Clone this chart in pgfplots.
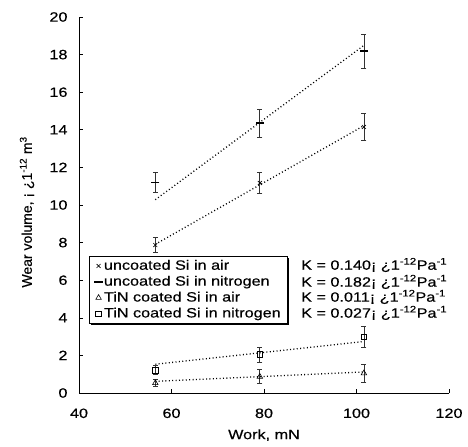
\documentclass[border=0pt]{standalone}
\usepackage{fontspec}
\setmainfont{Liberation Sans}[FakeStretch=1.2, FakeBold=0.4]
\newfontfamily\ylabfont{Liberation Sans}[FakeBold=0.4]
\usepackage{pgfplots}
\pgfplotsset{compat=1.18}
\usetikzlibrary{shadows}

\newcommand{\chartfont}{\fontsize{13.5bp}{15bp}\selectfont}

\begin{document}
\begin{tikzpicture}
\path[use as bounding box] (-79bp,-54bp) rectangle (389bp,393bp);
\begin{axis}[
  at={(0,0)}, anchor=south west,
  scale only axis, width=370bp, height=376bp,
  xmin=40, xmax=120, ymin=0, ymax=20,
  xtick={40,60,...,120}, ytick={0,2,...,20},
  axis x line=bottom, axis y line=left,
  axis line style={-, line width=0.8pt},
  tick align=inside, major tick length=4bp,
  tick style={black, line width=0.6pt},
  /pgf/number format/assume math mode=true,
  tick label style={font=\chartfont},
  yticklabel style={xshift=-8bp},
  xticklabel style={yshift=-12bp},
  xlabel={Work, mN},
  every axis x label/.style={at={(axis description cs:0.5,-0.112)}, anchor=center, font=\chartfont},
  legend cell align=left,
  legend image code/.code={\draw[#1] plot coordinates {(0.12cm,0cm)};},
  legend style={at={(rel axis cs:0.027,0.364)}, anchor=north west,
    draw=black, line width=0.8pt, fill=white,
    drop shadow={shadow xshift=1.8pt, shadow yshift=-1.8pt, fill=black, opacity=1},
    font=\chartfont, row sep=0pt, inner ysep=1.5bp, inner xsep=5bp,
    nodes={text height=10.5bp, text depth=3bp, inner sep=1.2bp}},
  error bars/error bar style={black!80, line width=0.7pt},
  error bars/error mark options={rotate=90, mark size=2.5pt, black!80, line width=0.7pt},
]
% fitted lines, V = K W
\addplot[black, line width=1.3pt, dash pattern=on 1pt off 2.4pt, forget plot] coordinates {(56.5,7.91) (101.6,14.22)};
\addplot[black, line width=1.3pt, dash pattern=on 1pt off 2.4pt, forget plot] coordinates {(56.5,10.28) (101.6,18.49)};
\addplot[black, line width=1.3pt, dash pattern=on 1pt off 2.4pt, forget plot] coordinates {(56.5,0.62) (101.6,1.12)};
\addplot[black, line width=1.3pt, dash pattern=on 1pt off 2.4pt, forget plot] coordinates {(56.5,1.53) (101.6,2.74)};

\addplot[only marks, mark=x, mark size=2.8pt, black, line width=0.6pt,
  error bars/.cd, y dir=both, y explicit] coordinates {
  (56.5,7.87) +- (0,0.40)
  (79.1,11.17) +- (0,0.57)
  (101.6,14.15) +- (0,0.72)};
\addlegendentry{uncoated Si in air}
\addplot[only marks, mark=-, mark size=4.2pt, black, line width=1.7pt,
  error bars/.cd, y dir=both, y explicit] coordinates {
  (56.5,11.20) +- (0,0.55)
  (79.1,14.36) +- (0,0.75)
  (101.6,18.19) +- (0,0.90)};
\addlegendentry{uncoated Si in nitrogen}
\addplot[only marks, mark=triangle, mark size=3.2pt, black, line width=0.6pt,
  error bars/.cd, y dir=both, y explicit] coordinates {
  (56.5,0.53) +- (0,0.20)
  (79.1,0.87) +- (0,0.37)
  (101.6,1.05) +- (0,0.47)};
\addlegendentry{TiN coated Si in air}
\addplot[only marks, mark=square, mark size=2.8pt, black, line width=0.6pt,
  error bars/.cd, y dir=both, y explicit] coordinates {
  (56.5,1.22) +- (0,0.25)
  (79.1,2.05) +- (0,0.40)
  (101.6,2.98) +- (0,0.55)};
\addlegendentry{TiN coated Si in nitrogen}

\node[anchor=west, font=\chartfont, inner sep=0pt] at (axis cs:88,6.81) {K = 0.140¡ ¿1\textsuperscript{-12}Pa\textsuperscript{-1}};
\node[anchor=west, font=\chartfont, inner sep=0pt] at (axis cs:88,5.91) {K = 0.182¡ ¿1\textsuperscript{-12}Pa\textsuperscript{-1}};
\node[anchor=west, font=\chartfont, inner sep=0pt] at (axis cs:88,5.11) {K = 0.011¡ ¿1\textsuperscript{-12}Pa\textsuperscript{-1}};
\node[anchor=west, font=\chartfont, inner sep=0pt] at (axis cs:88,4.26) {K = 0.027¡ ¿1\textsuperscript{-12}Pa\textsuperscript{-1}};
\end{axis}
% y label, set upright width (the picture is wider than tall in its letters)
\node[rotate=90, anchor=center, inner sep=0pt, font=\ylabfont\fontsize{14bp}{16bp}\selectfont]
  at (-52bp,181bp) {Wear volume, ¡ ¿1\textsuperscript{-12} m\textsuperscript{3}};
\end{tikzpicture}
\end{document}
